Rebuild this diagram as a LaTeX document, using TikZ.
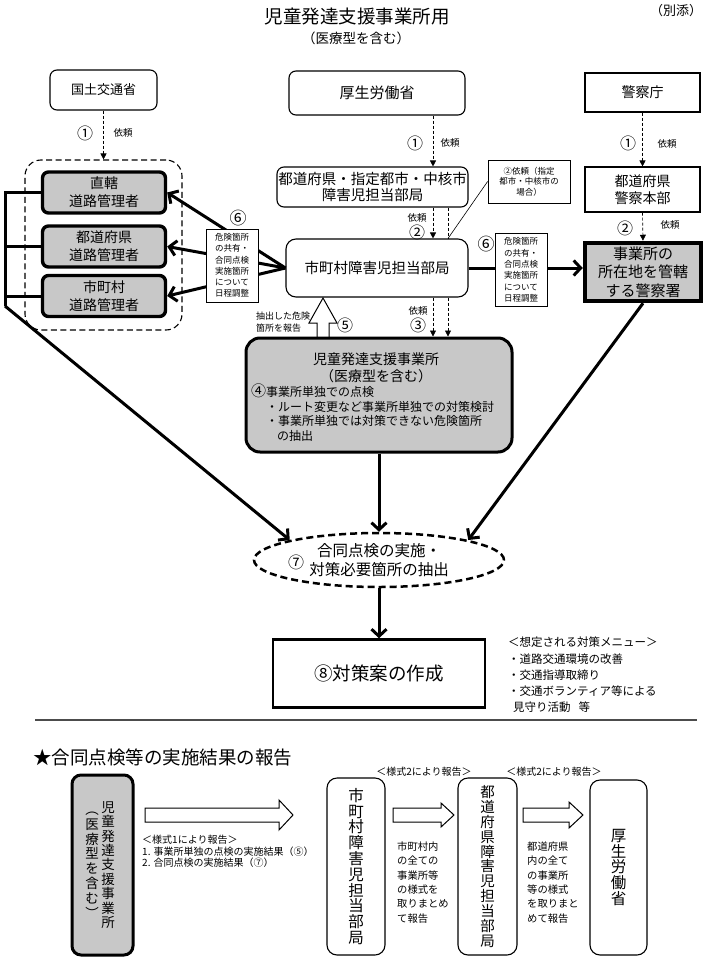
\documentclass[tikz,border=0pt]{standalone}
\usepackage{fontspec}
\setmainfont{Noto Sans CJK JP}
\usetikzlibrary{arrows.meta,shapes.geometric}
\definecolor{boxgray}{RGB}{200,200,200}
\newcommand\fsz[2]{\fontsize{#1}{#2}\selectfont}
\begin{document}
\begin{tikzpicture}[x=1pt,y=-1pt,
  rbox/.style={draw, rounded corners=7, line width=1.1, fill=white, inner sep=0, align=center},
  sbox/.style={draw, line width=1.1, fill=white, inner sep=0, align=center},
  roadbox/.style={draw, rounded corners=6, line width=3.4, fill=boxgray, minimum width=123, minimum height=41, inner sep=0, align=center, font=\fsz{14}{18}},
  notebx/.style={draw, line width=0.8, fill=white, inner sep=0, align=center},
  vbox/.style={draw, rounded corners=10, line width=1.1, fill=white, inner sep=0, align=center},
  bigarrow/.style={line width=3, -{Straight Barb[length=7,width=15]}},
  dasharrow/.style={line width=0.7, dash pattern=on 3pt off 2pt, -{Triangle[length=6,width=6]}},
  dashline/.style={line width=0.7, dash pattern=on 3pt off 2pt},
  hollow/.style={draw, line width=1, fill=white},
  lbl/.style={inner sep=0, font=\fsz{9.5}{11}},
  cnum/.style={inner sep=0, font=\fsz{16}{16}},
  small/.style={inner sep=0, align=left, font=\fsz{10}{11.5}}
]
\useasboundingbox (0,0) rectangle (705,958);

% titles
\node[inner sep=0, font=\fsz{18.5}{20}] (title) at (357,17) {児童発達支援事業所用};
\node[inner sep=0, font=\fsz{13.5}{15}] (subtitle) at (356,38) {（医療型を含む）};
\node[inner sep=0, font=\fsz{13}{15}] (annex) at (676,11) {（別添）};

% top row
\node[rbox, minimum width=107, minimum height=40, font=\fsz{13}{15}] (mlit) at (103.5,90) {国土交通省};
\node[rbox, minimum width=176, minimum height=44, font=\fsz{15}{17}] (mhlw) at (377,93) {厚生労働省};
\node[sbox, minimum width=115, minimum height=39, font=\fsz{14}{16}] (npa) at (642.5,92.5) {警察庁};

% second row
\node[rbox, minimum width=191, minimum height=40, font=\fsz{14.5}{15.5}] (pref) at (372.5,187) {都道府県・指定都市・中核市\\障害児担当部局};
\node[notebx, minimum width=82, minimum height=43, font=\fsz{8.5}{10.5}] (note2) at (529,181.5) {②依頼（指定\\都市・中核市の\\場合）};
\node[sbox, minimum width=115, minimum height=45, font=\fsz{14}{17}] (hq) at (642.5,189.5) {都道府県\\警察本部};

% left group
\node[draw, line width=1.1, dash pattern=on 6pt off 3.5pt, rounded corners=16, minimum width=157, minimum height=170, inner sep=0] (group) at (103.5,245) {};
\node[roadbox] (road1) at (104,192.5) {直轄\\道路管理者};
\node[roadbox] (road2) at (104,246.5) {都道府県\\道路管理者};
\node[roadbox] (road3) at (104,296) {市町村\\道路管理者};

% city dept and police station
\node[rbox, rounded corners=10, minimum width=182, minimum height=58, font=\fsz{14.5}{16}] (city) at (377,268) {市町村障害児担当部局};
\node[draw, line width=4.5, fill=boxgray, minimum width=116, minimum height=58, inner sep=0, align=center, font=\fsz{15}{18.5}] (police) at (643,272) {事業所の\\所在地を管轄\\する警察署};

% hollow arrow 5 (drawn before the main box)
\draw[hollow] (317,339) -- (317,323) -- (309,323) -- (323,298) -- (337,323) -- (329,323) -- (329,339) -- cycle;

% main facility box
\node[draw, rounded corners=14, line width=3, fill=boxgray, minimum width=266, minimum height=114, inner sep=0] (main) at (379,395) {};
\node[inner sep=0, align=center, font=\fsz{14}{17}] (maint) at (376,367.5) {児童発達支援事業所\\（医療型を含む）};
\node[inner sep=0, align=left, anchor=west, font=\fsz{12}{14.7}] (mainl) at (251,412.5) {{\fsz{15}{15}④}事業所単独での点検\\\hspace*{15pt}・ルート変更など事業所単独での対策検討\\\hspace*{15pt}・事業所単独では対策できない危険箇所\\\hspace*{26pt}の抽出};

% ellipse and plan
\node[ellipse, draw, line width=2.5, dash pattern=on 7pt off 4pt, fill=white, minimum width=250, minimum height=54, inner sep=0, align=center, font=\fsz{15.5}{19}] (ell) at (379,560) {合同点検の実施・\\対策必要箇所の抽出};
\node[inner sep=0, font=\fsz{16}{16}] (n7) at (296,562) {⑦};
\node[draw, line width=2.5, minimum width=212, minimum height=68, inner sep=0, font=\fsz{18.5}{20}] (plan) at (379,673.5) {⑧対策案の作成};
\node[inner sep=0, align=left, anchor=west, font=\fsz{11.5}{16.3}] (menu) at (508,675) {＜想定される対策メニュー＞\\・道路交通環境の改善\\・交通指導取締り\\・交通ボランティア等による\\\hspace*{5pt}見守り活動\hspace{8pt}等};

% helper coordinates
\coordinate (d1) at (433,0);
\coordinate (d2) at (448,0);
\coordinate (busB) at (5,306);

% dashed request arrows
\draw[dasharrow] (mlit.south) -- (group.north);
\draw[dasharrow] (mhlw.south -| d1) -- (pref.north -| d1);
\draw[dasharrow] (npa.south) -- (hq.north);
\draw[dasharrow] (pref.south -| d1) -- (city.north -| d1);
\draw[dashline] (pref.south -| d2) -- (city.north -| d2);
\draw[dasharrow] (city.south -| d1) -- (main.north -| d1);
\draw[dasharrow] (city.south -| d2) -- (main.north -| d2);
\draw[dasharrow] (hq.south) -- (police.north);
\draw[line width=0.6] (note2.west) -- (city.north -| d2);

% request labels
\node[cnum] (c1a) at (85,133) {①};
\node[lbl] (r1a) at (123,133) {依頼};
\node[cnum] (c1b) at (415,143) {①};
\node[lbl] (r1b) at (450,143) {依頼};
\node[cnum] (c1c) at (628,143) {①};
\node[lbl] (r1c) at (667,144) {依頼};
\node[lbl] (r2b) at (417,218) {依頼};
\node[cnum] (c2b) at (417,232) {②};
\node[cnum] (c2c) at (625,228) {②};
\node[lbl] (r2c) at (670,225) {依頼};
\node[lbl] (r3) at (418,311) {依頼};
\node[cnum] (c3) at (418,325) {③};
\node[cnum] (c5) at (345,325) {⑤};
\node[inner sep=0, align=left, anchor=west, font=\fsz{9}{12}] (rep5) at (256,322) {抽出した危険\\箇所を報告};

% thick arrows (6)
\draw[bigarrow] (city.west) -- (road1.east);
\draw[bigarrow] (city.west) -- (road2.east);
\draw[bigarrow] (city.west) -- (road3.east);
\draw[bigarrow] (city.east) -- (city.east -| police.west);
\node[notebx, minimum width=52, minimum height=73, font=\fsz{8.5}{11.3}] (six1) at (232,265.5) {危険箇所\\の共有・\\合同点検\\実施箇所\\について\\日程調整};
\node[notebx, minimum width=52, minimum height=73, font=\fsz{8.5}{11.3}] (six2) at (521,270) {危険箇所\\の共有・\\合同点検\\実施箇所\\について\\日程調整};
\node[inner sep=0, font=\fsz{17}{17}] (c6a) at (238,218) {⑥};
\node[inner sep=0, font=\fsz{17}{17}] (c6b) at (486,244) {⑥};

% left bus
\draw[line width=3, line join=miter] (road1.west) -- (road1.west -| busB) -- (busB);
\draw[line width=3] (road2.west) -- (road2.west -| busB);
\draw[line width=3] (road3.west) -- (road3.west -| busB);
\draw[bigarrow] (busB) -- (ell.north west);
\draw[bigarrow] (police.south) -- (ell.north east);
\draw[bigarrow] (main.south) -- (main.south |- ell.north);
\draw[bigarrow] (ell.south) -- (ell.south |- plan.north);

% separator
\draw[line width=1.2, black!70] (35,720) -- (697,720);

% bottom section
\node[inner sep=0, anchor=west, font=\fsz{18.5}{20}] (btitle) at (33,757) {★合同点検等の実施結果の報告};

\node[draw, rounded corners=9, line width=3, fill=boxgray, minimum width=61, minimum height=180, inner sep=0] (fac2) at (102.5,865) {};
\node[inner sep=0, align=center, font=\fsz{13.5}{14.4}] (fac2a) at (108,865) {児\\童\\発\\達\\支\\援\\事\\業\\所};
\node[inner sep=0, align=center, font=\fsz{13.5}{14.8}] (fac2b) at (92,865) {︵\\医\\療\\型\\を\\含\\む\\︶};

\node[vbox, minimum width=58, minimum height=177, font=\fsz{15.5}{15.8}] (city2) at (356,866.5) {市\\町\\村\\障\\害\\児\\担\\当\\部\\局};
\node[vbox, minimum width=59, minimum height=177, font=\fsz{14.5}{14.9}] (pref2) at (487.5,866.5) {都\\道\\府\\県\\障\\害\\児\\担\\当\\部\\局};
\node[vbox, minimum width=57, minimum height=175, font=\fsz{15.5}{15.6}] (mhlw2) at (618.5,867.5) {厚\\生\\労\\働\\省};

\draw[hollow] (145,808) -- (279,808) -- (279,800) -- (293,815) -- (279,830) -- (279,822) -- (145,822) -- cycle;
\draw[hollow] (393,808) -- (441,808) -- (441,803) -- (454,815) -- (441,827) -- (441,822) -- (393,822) -- cycle;
\draw[hollow] (523,808) -- (569,808) -- (569,802) -- (583,815) -- (569,828) -- (569,822) -- (523,822) -- cycle;

\node[small, anchor=west] (form1) at (142,851.5) {＜様式1により報告＞\\1. 事業所単独の点検の実施結果（⑤）\\2. 合同点検の実施結果（⑦）};
\node[inner sep=0, font=\fsz{10}{11}] (form2a) at (424,772) {＜様式2により報告＞};
\node[inner sep=0, font=\fsz{10}{11}] (form2b) at (554,772) {＜様式2により報告＞};
\node[inner sep=0, align=left, anchor=west, font=\fsz{10.3}{14.3}] (txt2) at (397,882.5) {市町村内\\の全ての\\事業所等\\の様式を\\取りまとめ\\て報告};
\node[inner sep=0, align=left, anchor=west, font=\fsz{10.3}{14.3}] (txt3) at (527,882.5) {都道府県\\内の全て\\の事業所\\等の様式\\を取りまと\\めて報告};
\end{tikzpicture}
\end{document}
